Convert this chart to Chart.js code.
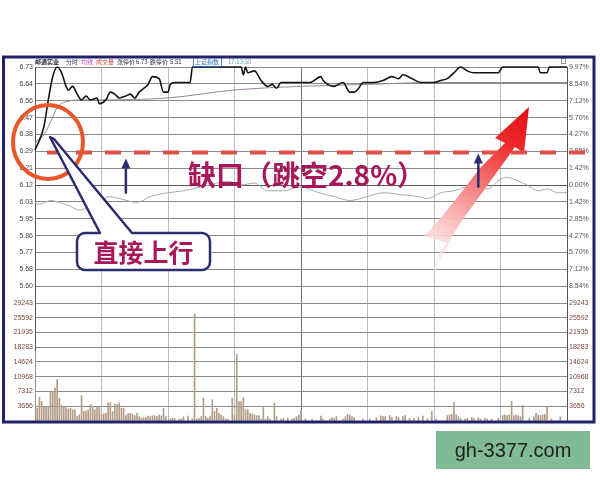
<!DOCTYPE html>
<html>
<head>
<meta charset="utf-8">
<script src="https://cdn.jsdelivr.net/npm/chart.js@4.4.0/dist/chart.umd.min.js"></script>
<style>
html, body { margin: 0; padding: 0; background: #fff; }
canvas { display: block; }
</style>
</head>
<body>
<canvas id="c" width="600" height="480"></canvas>
<script>
// minutes after the open (0..240)
var priceMinutes = [0, 4, 6, 8, 10, 12, 14, 15, 17, 19, 21, 23, 25, 28, 29, 32, 34, 36, 38, 41, 43, 45, 47, 51, 53, 56, 58, 60, 61, 63, 66, 69, 70, 71, 93, 94, 95, 96, 99, 102, 105, 107, 109, 111, 115, 118, 120, 124, 129, 130, 135, 139, 142, 144, 146, 148, 153, 157, 161, 164, 166, 170, 174, 177, 180, 183, 186, 189, 192, 195, 198, 201, 204, 209, 211, 227, 228, 231, 232, 240];
var priceValues  = [6.30, 6.42, 6.56, 6.68, 6.73, 6.70, 6.63, 6.61, 6.63, 6.59, 6.56, 6.58, 6.56, 6.57, 6.54, 6.56, 6.60, 6.59, 6.57, 6.58, 6.59, 6.57, 6.60, 6.64, 6.68, 6.67, 6.60, 6.60, 6.64, 6.65, 6.65, 6.65, 6.65, 6.73, 6.73, 6.69, 6.73, 6.70, 6.71, 6.66, 6.63, 6.64, 6.62, 6.65, 6.65, 6.65, 6.65, 6.65, 6.68, 6.66, 6.63, 6.65, 6.60, 6.60, 6.62, 6.65, 6.65, 6.66, 6.68, 6.67, 6.69, 6.67, 6.65, 6.65, 6.65, 6.66, 6.67, 6.70, 6.73, 6.71, 6.70, 6.70, 6.70, 6.70, 6.73, 6.73, 6.70, 6.70, 6.73, 6.73];

var avgMinutes = [0, 1, 4, 8, 10, 14, 22, 29, 60, 89, 120, 150, 180, 210, 240];
var avgValues  = [6.33, 6.35, 6.38, 6.47, 6.52, 6.55, 6.56, 6.56, 6.57, 6.61, 6.63, 6.64, 6.65, 6.65, 6.65];

var indexMinutes = [0, 2, 7, 11, 16, 20, 25, 29, 33, 38, 46, 52, 60, 67, 75, 82, 87, 93, 99, 105, 112, 120, 128, 135, 142, 150, 157, 165, 173, 177, 183, 189, 195, 198, 204, 210, 213, 218, 222, 227, 231, 236, 240];
var indexValues  = [6.03, 6.02, 6.04, 6.03, 6.01, 5.99, 6.01, 6.02, 6.06, 6.05, 6.03, 6.06, 6.08, 6.09, 6.11, 6.13, 6.14, 6.12, 6.13, 6.09, 6.09, 6.11, 6.08, 6.06, 6.04, 6.06, 6.08, 6.07, 6.06, 6.05, 6.08, 6.09, 6.11, 6.10, 6.10, 6.15, 6.16, 6.14, 6.12, 6.09, 6.10, 6.08, 6.08];

var volMinutes = [0, 1, 2, 3, 4, 5, 6, 7, 8, 9, 10, 11, 12, 13, 14, 15, 16, 17, 18, 19, 20, 21, 22, 23, 24, 25, 26, 27, 28, 29, 30, 31, 32, 33, 34, 35, 36, 37, 38, 39, 40, 41, 42, 43, 44, 45, 46, 47, 48, 49, 50, 51, 52, 53, 54, 55, 56, 57, 58, 59, 61, 62, 63, 65, 66, 67, 69, 71, 72, 73, 74, 75, 76, 77, 78, 79, 80, 81, 82, 83, 84, 85, 86, 87, 89, 90, 91, 92, 93, 94, 95, 96, 97, 98, 99, 100, 101, 102, 103, 104, 105, 106, 108, 109, 111, 112, 114, 116, 117, 118, 119, 120, 122, 125, 129, 130, 133, 134, 135, 136, 139, 140, 141, 142, 143, 144, 148, 151, 154, 156, 157, 158, 160, 161, 163, 164, 166, 167, 169, 171, 173, 175, 177, 179, 181, 186, 187, 188, 189, 190, 191, 192, 194, 195, 197, 198, 200, 201, 203, 204, 206, 209, 211, 212, 213, 214, 215, 216, 217, 218, 219, 220, 223, 225, 226, 227, 228, 229, 230, 231, 233, 237];
var volValues  = [17300, 3170, 5830, 4830, 3580, 3580, 3580, 7170, 7330, 8170, 10250, 5670, 3830, 3580, 3330, 3000, 3170, 2750, 2750, 1080, 1500, 6250, 2330, 2500, 2750, 4000, 3750, 2750, 3330, 3330, 1750, 1750, 1920, 4500, 4580, 2330, 4170, 4000, 4420, 3170, 3170, 1330, 1920, 1920, 1670, 1330, 1920, 1080, 670, 830, 830, 1250, 1080, 1330, 1330, 1080, 1500, 1250, 3170, 1080, 500, 670, 670, 500, 500, 1080, 1250, 500, 26500, 500, 670, 1080, 5670, 1080, 670, 1080, 5250, 2330, 3170, 1920, 1500, 1080, 500, 500, 5670, 1330, 16500, 4830, 4830, 5830, 2750, 2750, 1920, 1670, 1500, 1330, 1330, 500, 3330, 500, 1080, 500, 4500, 1080, 500, 670, 670, 500, 670, 1080, 1500, 2670, 500, 500, 1250, 500, 500, 830, 670, 1080, 500, 1080, 1670, 1500, 1080, 830, 500, 500, 830, 1250, 1080, 1080, 1330, 830, 1080, 830, 1080, 1330, 670, 670, 830, 1250, 500, 2330, 500, 1330, 1500, 1670, 4580, 1500, 1080, 670, 500, 670, 830, 670, 830, 500, 670, 500, 500, 670, 1330, 1500, 1330, 1500, 4830, 1330, 1500, 1330, 1080, 3830, 670, 1080, 1920, 1500, 1330, 1500, 1670, 3580, 500, 1080];

var priceLabels = ['6.73', '6.64', '6.56', '6.47', '6.38', '6.29', '6.21', '6.12', '6.03', '5.95', '5.86', '5.77', '5.68', '5.60'];
var pctLabels   = ['9.97%', '8.54%', '7.12%', '5.70%', '4.27%', '2.85%', '1.42%', '0.00%', '1.42%', '2.85%', '4.27%', '5.70%', '7.12%', '8.54%'];
var volLabels   = ['29243', '25592', '21935', '18283', '14624', '10968', '7312', '3656'];
var headerTexts = ['邮通实业', '分时', '均线', '成交量', '涨停价', '6.73', '跌停价', '5.51', '上证指数', '17:13:50'];

var preClose = 6.12;
var priceMax = 6.73, priceMin = 5.51;
var priceStep = (priceMax - priceMin) / 14;
var pctMax = 9.97, pctStep = pctMax / 7;
var gapPrice = 6.29;
var gapText = '缺口（跳空2.8%）';
var calloutText = '直接上行';
var watermark = 'gh-3377.com';

function pts(xs, ys) {
    return xs.map(function (m, i) { return { x: m, y: ys[i] }; });
}

function stepTicks(top, step, n) {
    var t = [];
    for (var i = n; i >= 0; i--) t.push({ value: top - i * step });
    return t;
}

function volTicks(s) {
    s.ticks = [{ value: 0 }].concat(volLabels.slice().reverse().map(function (l) { return { value: +l }; }));
}

var tickFont = { family: 'Liberation Sans', size: 7 };

var overlay = {
    id: 'overlay',
    afterDraw: function (chart) {
        var ctx = chart.ctx;
        var sx = chart.scales.x, sp = chart.scales.yPrice;
        ctx.save();

        // header line
        var hx = [35, 66, 81, 96, 117, 136, 150, 170, 195, 228];
        var hc = ['#2a2a3a', '#2a2a5a', '#c03cb8', '#d0453c', '#2a2a3a', '#2a2a3a', '#2a2a3a', '#2a2a3a', '#2f72c0', '#6aa6a6'];
        ctx.textBaseline = 'middle';
        headerTexts.forEach(function (t, i) {
            ctx.font = (i === 0 ? 'bold ' : '') + '6px "Noto Sans CJK SC"';
            ctx.fillStyle = hc[i];
            ctx.fillText(t, hx[i], 62);
        });
        ctx.strokeStyle = '#2f72c0';
        ctx.lineWidth = 0.8;
        ctx.strokeRect(193.5, 57.5, 28, 9);
        ctx.strokeStyle = '#777';
        ctx.strokeRect(561.5, 58.5, 4, 5);

        // frame
        ctx.strokeStyle = '#22226c';
        ctx.lineWidth = 3;
        ctx.strokeRect(3.5, 57, 590.5, 365);

        // big red arrow
        var g = ctx.createLinearGradient(430, 292, 529, 107);
        g.addColorStop(0, 'rgba(255,255,255,0)');
        g.addColorStop(0.25, 'rgba(252,215,215,0.9)');
        g.addColorStop(0.55, 'rgba(245,125,125,1)');
        g.addColorStop(0.8, '#ec2a2a');
        g.addColorStop(1, '#e00d16');
        var ar = [[529, 107], [524, 153], [515, 147], [497, 172], [479, 197], [463, 219], [451, 238],
                  [440, 262], [428, 292], [437, 256], [447, 243], [424, 236], [440, 219], [460, 194],
                  [481, 167], [505, 143], [495, 138]];
        ctx.beginPath();
        ar.forEach(function (p, i) { if (i) ctx.lineTo(p[0], p[1]); else ctx.moveTo(p[0], p[1]); });
        ctx.closePath();
        ctx.fillStyle = g;
        ctx.fill();

        // dashed gap line
        var gy = sp.getPixelForValue(gapPrice) + 0.5;
        ctx.strokeStyle = '#e0504a';
        ctx.lineWidth = 4;
        ctx.setLineDash([16, 13]);
        ctx.beginPath();
        ctx.moveTo(47, gy);
        ctx.lineTo(590, gy);
        ctx.stroke();
        ctx.setLineDash([]);

        // up arrows
        function upArrow(x, y0, y1) {
            ctx.strokeStyle = '#2b2b72';
            ctx.fillStyle = '#2b2b72';
            ctx.lineWidth = 2.5;
            ctx.beginPath();
            ctx.moveTo(x, y0);
            ctx.lineTo(x, y1 + 8);
            ctx.stroke();
            ctx.beginPath();
            ctx.moveTo(x, y1);
            ctx.lineTo(x - 4.5, y1 + 10);
            ctx.lineTo(x + 4.5, y1 + 10);
            ctx.closePath();
            ctx.fill();
        }
        upArrow(sx.getPixelForValue(41), gy + 41, gy + 6);
        upArrow(sx.getPixelForValue(200), gy + 35, gy + 1);

        // gap text
        ctx.fillStyle = '#a8175a';
        ctx.font = 'bold 28px "Noto Sans CJK SC"';
        ctx.textBaseline = 'middle';
        ctx.textAlign = 'left';
        ctx.fillText(gapText, 188, 175);

        // orange circle
        ctx.strokeStyle = '#e8562a';
        ctx.lineWidth = 4;
        ctx.beginPath();
        ctx.ellipse(48, 142, 35, 37, 0, 0, Math.PI * 2);
        ctx.stroke();

        // callout bubble
        var bx0 = 77, by0 = 233, bx1 = 210, by1 = 270, r = 8;
        ctx.beginPath();
        ctx.moveTo(bx0 + r, by0);
        ctx.lineTo(100, by0);
        ctx.lineTo(50, 137);
        ctx.lineTo(54, 139);
        ctx.lineTo(132, by0);
        ctx.lineTo(bx1 - r, by0);
        ctx.arcTo(bx1, by0, bx1, by0 + r, r);
        ctx.lineTo(bx1, by1 - r);
        ctx.arcTo(bx1, by1, bx1 - r, by1, r);
        ctx.lineTo(bx0 + r, by1);
        ctx.arcTo(bx0, by1, bx0, by1 - r, r);
        ctx.lineTo(bx0, by0 + r);
        ctx.arcTo(bx0, by0, bx0 + r, by0, r);
        ctx.closePath();
        ctx.fillStyle = '#fff';
        ctx.fill();
        ctx.strokeStyle = '#2b2d6e';
        ctx.lineWidth = 2.5;
        ctx.lineJoin = 'round';
        ctx.stroke();
        ctx.fillStyle = '#a8175a';
        ctx.font = 'bold 25px "Noto Sans CJK SC"';
        ctx.textAlign = 'center';
        ctx.fillText(calloutText, (bx0 + bx1) / 2, (by0 + by1) / 2 + 1);

        // watermark
        ctx.fillStyle = '#80bb96';
        ctx.fillRect(436, 431, 154, 38);
        ctx.fillStyle = '#222';
        ctx.font = '20px "Liberation Sans"';
        ctx.fillText(watermark, 513, 451);

        ctx.restore();
    }
};

new Chart(document.getElementById('c'), {
    data: {
        datasets: [
            {
                type: 'line', data: pts(priceMinutes, priceValues), yAxisID: 'yPrice',
                borderColor: '#151515', borderWidth: 1.6, pointRadius: 0, clip: 4,
                cubicInterpolationMode: 'monotone', order: 1
            },
            {
                type: 'line', data: pts(avgMinutes, avgValues), yAxisID: 'yPrice',
                borderColor: '#98849a', borderWidth: 1, pointRadius: 0,
                cubicInterpolationMode: 'monotone', order: 2
            },
            {
                type: 'line', data: pts(indexMinutes, indexValues), yAxisID: 'yPrice',
                borderColor: '#a9a9a9', borderWidth: 1, pointRadius: 0,
                cubicInterpolationMode: 'monotone', order: 3
            },
            {
                type: 'bar', data: pts(volMinutes, volValues), yAxisID: 'yVol',
                backgroundColor: '#b39c86', barThickness: 1, order: 4
            }
        ]
    },
    options: {
        responsive: false,
        animation: false,
        layout: { padding: { left: 5, right: 5, top: 67, bottom: 59 } },
        plugins: { legend: { display: false }, tooltip: { enabled: false } },
        scales: {
            x: {
                type: 'linear', min: 0, max: 240, offset: false,
                ticks: { display: false, stepSize: 30 },
                grid: {
                    offset: false,
                    drawTicks: false,
                    color: function (c) { return c.tick && c.tick.value === 120 ? '#707070' : '#bcbcbc'; }
                },
                border: { display: false },
                afterFit: function (s) { s.height = 0; }
            },
            yVol: {
                type: 'linear', position: 'left', stack: 'L', stackWeight: 1,
                min: 0, max: +volLabels[0],
                afterBuildTicks: volTicks,
                ticks: {
                    font: tickFont, color: '#7a4638', padding: 2, autoSkip: false,
                    callback: function (v) { return v === 0 ? '' : String(v); }
                },
                grid: { drawTicks: false, color: '#8a8a8a' },
                border: { color: '#555' },
                afterFit: function (s) { s.width = 30; }
            },
            yPrice: {
                type: 'linear', position: 'left', stack: 'L', stackWeight: 2,
                min: priceMin, max: priceMax,
                afterBuildTicks: function (s) { s.ticks = stepTicks(priceMax, priceStep, 14); },
                ticks: {
                    font: tickFont, color: '#444', padding: 2, autoSkip: false,
                    callback: function (v) { return priceLabels[Math.round((priceMax - v) / priceStep)] || ''; }
                },
                grid: {
                    drawTicks: false,
                    color: function (c) { return c.tick && Math.abs(c.tick.value - preClose) < 0.01 ? '#5a5a5a' : '#8a8a8a'; }
                },
                border: { color: '#555' },
                afterFit: function (s) { s.width = 30; }
            },
            yPct: {
                type: 'linear', position: 'right', stack: 'R', stackWeight: 2,
                min: -pctMax, max: pctMax,
                afterBuildTicks: function (s) { s.ticks = stepTicks(pctMax, pctStep, 14); },
                ticks: {
                    font: tickFont, color: '#5a5050', padding: 2, autoSkip: false,
                    callback: function (v) { return pctLabels[Math.round((pctMax - v) / pctStep)] || ''; }
                },
                grid: { display: false, drawTicks: false },
                border: { color: '#555' },
                afterFit: function (s) { s.width = 28; }
            },
            yVolR: {
                type: 'linear', position: 'right', stack: 'R', stackWeight: 1,
                min: 0, max: +volLabels[0],
                afterBuildTicks: volTicks,
                ticks: {
                    font: tickFont, color: '#7a4638', padding: 2, autoSkip: false,
                    callback: function (v) { return v === 0 ? '' : String(v); }
                },
                grid: { display: false, drawTicks: false },
                border: { color: '#555' },
                afterFit: function (s) { s.width = 28; }
            }
        }
    },
    plugins: [overlay]
});
</script>
</body>
</html>
